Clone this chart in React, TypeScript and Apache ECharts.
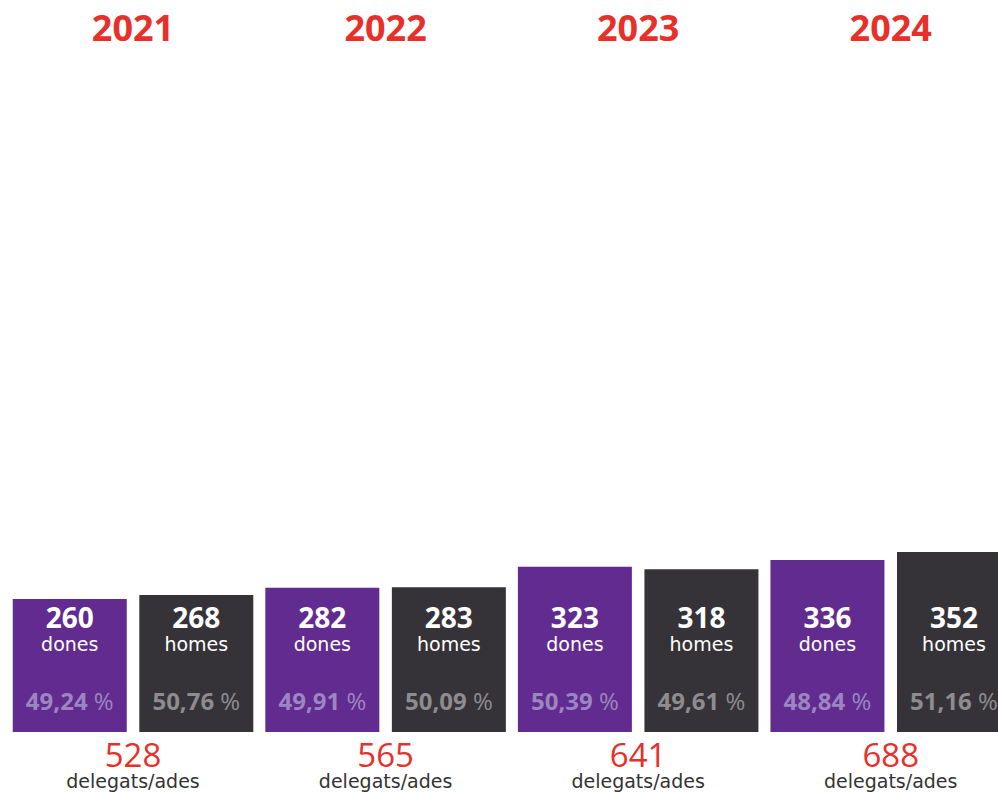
import React, { useEffect, useRef } from "react";
import * as echarts from "echarts";

const years = ["2021", "2022", "2023", "2024"];
const dones = [260, 282, 323, 336];
const homes = [268, 283, 318, 352];
const donesPct = [49.24, 49.91, 50.39, 48.84];
const homesPct = [50.76, 50.09, 49.61, 51.16];
const totals = [528, 565, 641, 688];
const donesLabel = "dones";
const homesLabel = "homes";
const totalLabel = "delegats/ades";

const FONT = "'Open Sans', 'Noto Sans', sans-serif";
const FONT2 = "'DejaVu Sans', 'Open Sans', sans-serif";
const RED = "#e8302a";
const PURPLE = "#622b8f";
const DARK = "#363338";

const fmtPct = (v: number) => v.toFixed(2).replace(".", ",");

const labelRich = (pctColor: string) => ({
  v: { fontFamily: FONT, fontSize: 28, fontWeight: "bold", color: "#ffffff", lineHeight: 28 },
  n: { fontFamily: FONT2, fontSize: 19, color: "#ffffff", lineHeight: 26 },
  g: { fontSize: 10, lineHeight: 29 },
  p: { fontFamily: FONT, fontSize: 24, fontWeight: "bold", color: pctColor, lineHeight: 28 },
  ps: { fontFamily: FONT, fontSize: 24, fontWeight: "normal", color: pctColor, lineHeight: 28 },
});

export default function App() {
  const ref = useRef<HTMLDivElement>(null);
  useEffect(() => {
    if (!ref.current) return;
    const chart = echarts.init(ref.current, null, { renderer: "svg" });
    chart.setOption({
      animation: false,
      backgroundColor: "#ffffff",
      grid: { left: 6.75, right: 0, top: 67, bottom: 61, containLabel: false },
      xAxis: [
        {
          type: "category",
          data: years,
          position: "bottom",
          axisLine: { show: false },
          axisTick: { show: false },
          axisLabel: {
            margin: 6,
            formatter: (_: string, i: number) => `{t|${totals[i]}}\n{d|${totalLabel}}`,
            rich: {
              t: { fontFamily: FONT, fontSize: 33, color: RED, lineHeight: 33 },
              d: { fontFamily: FONT2, fontSize: 19, color: "#333333", lineHeight: 19 },
            },
          },
        },
        {
          type: "category",
          data: years,
          position: "top",
          axisLine: { show: false },
          axisTick: { show: false },
          axisLabel: {
            margin: 40,
            verticalAlign: "middle",
            fontFamily: FONT,
            fontSize: 36,
            fontWeight: "bold",
            color: RED,
          },
        },
      ],
      yAxis: { type: "value", min: 0, max: 1300, show: false, splitLine: { show: false } },
      series: [
        {
          type: "bar",
          name: donesLabel,
          data: dones,
          barWidth: 114,
          barGap: "11%",
          itemStyle: { color: PURPLE },
          label: {
            show: true,
            position: "insideBottom",
            distance: 18,
            formatter: (p: any) =>
              `{v|${dones[p.dataIndex]}}\n{n|${donesLabel}}\n{g| }\n{p|${fmtPct(donesPct[p.dataIndex])}}{ps| %}`,
            rich: labelRich("#9b86c1"),
          },
        },
        {
          type: "bar",
          name: homesLabel,
          data: homes,
          barWidth: 114,
          itemStyle: { color: DARK },
          label: {
            show: true,
            position: "insideBottom",
            distance: 18,
            formatter: (p: any) =>
              `{v|${homes[p.dataIndex]}}\n{n|${homesLabel}}\n{g| }\n{p|${fmtPct(homesPct[p.dataIndex])}}{ps| %}`,
            rich: labelRich("#8d8c8f"),
          },
        },
      ],
    });
    return () => chart.dispose();
  }, []);
  return (
    <div style={{ position: "absolute", left: 0, top: 0, width: 998, height: 793, overflow: "hidden", background: "#fff" }}>
      <div ref={ref} style={{ width: 1017, height: 793 }} />
    </div>
  );
}
